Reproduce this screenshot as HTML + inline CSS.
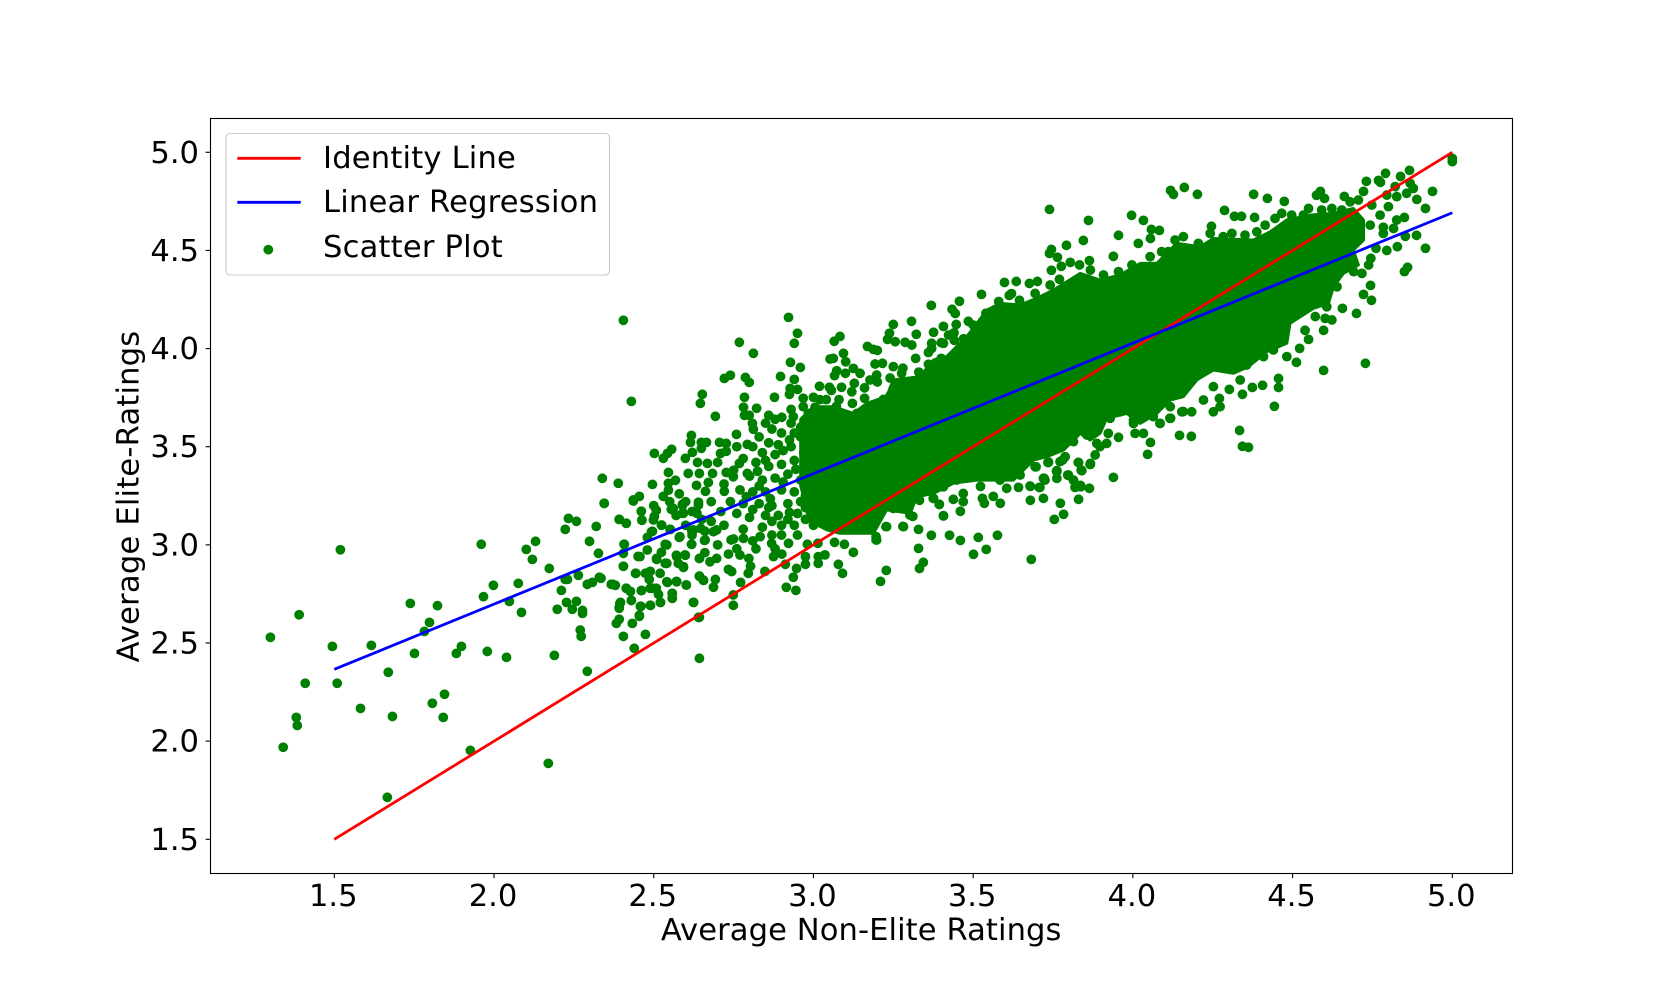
<!DOCTYPE html>
<html lang="en">
<head>
<meta charset="utf-8">
<title>Average Elite vs Non-Elite Ratings</title>
<style>
html,body{margin:0;padding:0;background:#fff;}
body{width:1680px;height:981px;overflow:hidden;}
svg{display:block;}
text{font-family:"DejaVu Sans","Liberation Sans",sans-serif;font-size:30.56px;fill:#000;}
.wide{letter-spacing:0.2px;}
</style>
</head>
<body>
<svg id="chart" xmlns="http://www.w3.org/2000/svg" width="1680" height="981" viewBox="0 0 1680 981">
  <rect x="0" y="0" width="1680" height="981" fill="#ffffff"/>
  <g id="scatter-layer"></g>
  <g id="line-layer"></g>
  <rect x="210.5" y="118.5" width="1302" height="755" fill="none" stroke="#000" stroke-width="1.11"/>
  <g id="tick-layer"></g>
  <text class="wide" x="861.2" y="940" text-anchor="middle" style="letter-spacing:0.1px">Average Non-Elite Ratings</text>
  <text class="wide" transform="translate(138.5,496.5) rotate(-90)" text-anchor="middle">Average Elite-Ratings</text>
  <g>
    <rect x="226" y="133.5" width="383.5" height="141.5" rx="4" ry="4" fill="#fff" fill-opacity="0.8" stroke="#ccc" stroke-width="1.11"/>
    <line x1="237.3" y1="158.3" x2="300.7" y2="158.3" stroke="#ff0000" stroke-width="2.78"/>
    <text class="wide" x="323" y="168">Identity Line</text>
    <line x1="237.3" y1="202.3" x2="300.7" y2="202.3" stroke="#0000ff" stroke-width="2.78"/>
    <text class="wide" x="323" y="212">Linear Regression</text>
    <circle cx="268.3" cy="249.7" r="4.9" fill="#008000"/>
    <text class="wide" x="323" y="257">Scatter Plot</text>
  </g>
</svg>
<script>
const xTickValues = [1.5, 2.0, 2.5, 3.0, 3.5, 4.0, 4.5, 5.0];
const yTickValues = [1.5, 2.0, 2.5, 3.0, 3.5, 4.0, 4.5, 5.0];
const identityX = [1.5, 5.0];
const identityY = [1.5, 5.0];
const regressionX = [1.5, 5.0];
const regressionY = [2.366, 4.692];
// Outline of the fully overplotted centre of the cloud, where single dots cannot be read.
const denseCoreOutline = [[2.960,3.640],[3.000,3.704],[3.062,3.704],[3.125,3.670],[3.167,3.721],[3.229,3.755],[3.250,3.840],[3.334,3.857],[3.376,3.942],[3.417,3.959],[3.480,4.061],[3.543,4.196],[3.584,4.230],[3.647,4.222],[3.699,4.256],[3.751,4.298],[3.835,4.383],[3.897,4.349],[3.960,4.375],[4.023,4.434],[4.075,4.434],[4.137,4.536],[4.211,4.519],[4.252,4.561],[4.378,4.553],[4.430,4.595],[4.482,4.655],[4.555,4.680],[4.628,4.689],[4.690,4.714],[4.722,4.655],[4.722,4.553],[4.690,4.502],[4.706,4.426],[4.659,4.383],[4.628,4.315],[4.612,4.230],[4.565,4.205],[4.492,4.129],[4.482,4.027],[4.419,3.984],[4.362,3.908],[4.315,3.874],[4.252,3.891],[4.200,3.840],[4.158,3.755],[4.117,3.738],[4.075,3.670],[4.023,3.619],[3.981,3.670],[3.918,3.645],[3.897,3.568],[3.866,3.534],[3.835,3.568],[3.783,3.483],[3.730,3.449],[3.689,3.432],[3.626,3.330],[3.511,3.330],[3.438,3.314],[3.376,3.262],[3.323,3.245],[3.303,3.161],[3.229,3.178],[3.188,3.059],[3.083,3.059],[3.042,3.076],[2.990,3.120],[2.960,3.300]];
const scatterPoints = [
[1.519,2.975],[1.960,3.003],[1.390,2.644],[1.300,2.529],[1.494,2.483],[1.616,2.488],[1.738,2.702],[1.823,2.690],[1.798,2.605],[1.782,2.559],[1.751,2.447],[1.669,2.351],[1.509,2.295],[1.409,2.295],[1.582,2.167],[1.682,2.126],[1.381,2.121],[1.384,2.080],[1.340,1.969],[1.845,2.239],[1.807,2.193],[1.841,2.121],[1.898,2.483],[1.882,2.447],[1.979,2.457],[2.039,2.427],[2.189,2.437],[2.292,2.356],[1.926,1.953],[1.666,1.714],[2.170,1.887],[2.643,2.422],[1.998,2.794],[2.076,2.804],[1.967,2.736],[2.048,2.712],[2.086,2.656],[2.101,2.977],[2.130,3.018],[2.120,2.926],[2.173,2.880],[2.233,3.135],[2.258,3.120],[2.223,3.079],[2.320,3.094],[2.345,3.211],[2.299,3.018],[2.327,2.957],[2.223,2.824],[2.230,2.824],[2.264,2.845],[2.211,2.768],[2.227,2.707],[2.258,2.712],[2.198,2.672],[2.245,2.672],[2.277,2.666],[2.277,2.651],[2.270,2.566],[2.273,2.534],[2.292,2.799],[2.308,2.809],[2.330,2.835],[2.367,2.799],[2.380,2.794],[2.414,2.779],[2.427,2.763],[2.430,2.717],[2.396,2.707],[2.392,2.682],[2.392,2.621],[2.383,2.600],[2.405,2.534],[2.433,2.600],[2.455,2.636],[2.474,2.544],[2.439,2.473],[2.460,2.687],[2.489,2.692],[2.521,2.707],[2.462,2.768],[2.489,2.779],[2.508,2.779],[2.515,2.748],[2.558,2.753],[2.558,2.728],[2.625,2.707],[2.643,2.631],[2.602,2.795],[2.571,2.814],[2.543,2.809],[2.643,2.840],[2.656,2.819],[2.405,2.891],[2.443,2.855],[2.474,2.855],[2.489,2.865],[2.486,2.824],[2.408,3.003],[2.405,2.957],[2.392,3.130],[2.414,3.110],[2.436,3.223],[2.461,3.171],[2.463,3.125],[2.508,3.176],[2.502,3.145],[2.524,3.100],[2.496,3.069],[2.552,3.079],[2.580,3.038],[2.619,3.074],[2.647,3.084],[2.618,3.003],[2.659,3.023],[2.643,2.931],[2.599,2.947],[2.451,2.941],[2.480,3.038],[2.480,2.974],[2.536,3.003],[2.524,2.962],[2.509,2.926],[2.536,2.906],[2.571,2.947],[2.577,2.906],[2.593,2.885],[2.555,3.181],[2.590,3.201],[2.593,3.161],[2.635,3.161],[2.640,3.203],
[2.405,4.144],[2.430,3.731],[2.922,4.159],[2.950,4.078],[2.940,4.027],[2.768,4.032],[2.812,3.976],[2.928,3.930],[2.959,3.904],[2.897,3.858],[2.940,3.843],[2.721,3.848],[2.740,3.864],[2.787,3.853],[2.799,3.828],[2.652,3.767],[2.646,3.721],[2.693,3.655],[2.784,3.752],[2.878,3.752],[2.927,3.797],[2.950,3.792],[2.925,3.767],[2.781,3.701],[2.822,3.696],[2.784,3.660],[2.799,3.660],[2.809,3.619],[2.812,3.589],[2.860,3.660],[2.759,3.563],[2.618,3.558],[2.615,3.522],[2.649,3.522],[2.665,3.522],[2.706,3.522],[2.727,3.517],[2.793,3.512],[2.556,3.487],[2.543,3.466],[2.530,3.441],[2.502,3.466],[2.599,3.441],[2.621,3.471],[2.649,3.492],[2.709,3.466],[2.727,3.477],[2.637,3.420],[2.668,3.415],[2.608,3.364],[2.546,3.369],[2.643,3.364],[2.684,3.364],[2.727,3.369],[2.749,3.347],[2.793,3.364],[2.768,3.415],[2.671,3.318],[2.634,3.303],[2.568,3.329],[2.546,3.314],[2.496,3.308],[2.389,3.314],[2.339,3.339],[2.345,3.212],[2.436,3.229],[2.455,3.247],[2.530,3.247],[2.546,3.279],[2.721,3.273],[2.662,3.273],[2.640,3.217],[2.590,3.207],[2.561,3.186],[2.508,3.176],[2.461,3.171],[2.590,3.161],[2.392,3.130],[2.414,3.110],[2.463,3.127],[2.499,3.127],[2.525,3.101],[2.551,3.079],[2.493,3.067],[2.407,3.003],[2.457,2.940],[2.405,2.891],[2.444,2.855],[2.335,2.830],[2.372,2.799],[2.414,2.779],[2.461,2.767],[2.430,2.717],[2.394,2.702],[2.392,2.677],[2.455,2.641],[2.458,2.687],[2.490,2.692],[2.521,2.707],[2.558,2.728],[2.558,2.753],[2.499,2.779],[2.483,2.855],[2.520,2.855],[2.541,2.812],[2.572,2.812],[2.602,2.796],[2.624,2.707],[2.643,2.931],[2.643,2.841],[2.655,2.821],[2.693,2.824],[2.687,2.784],[2.749,2.745],[2.749,2.692],[2.640,2.631],[2.772,2.809],[2.796,2.855],[2.734,2.875],[2.744,2.864],[2.848,2.865],[2.803,2.891],[2.798,2.931],[2.770,2.948],[2.734,2.953],[2.697,2.931],[2.676,2.914],[2.593,2.889],[2.572,2.940],[2.598,2.949],[2.541,3.000],[2.509,2.931],[2.541,2.906],[2.619,3.003],[2.661,3.025],[2.687,3.067],[2.697,3.076],[2.624,3.076],[2.582,3.042],[2.742,3.025],[2.781,3.033],[2.833,3.042],[2.869,3.008],[2.875,2.940],[2.901,2.953],[2.922,3.008],[2.915,2.784],[2.945,2.768],[2.937,2.835],[2.947,2.880],[2.912,2.901],[2.975,2.901],[2.975,2.940],[2.981,3.003],[3.014,3.008],[3.015,2.906],[3.015,2.940],[3.036,2.949],[3.066,3.013],[3.097,3.003],[3.125,2.962],[3.078,2.901],[3.091,2.855],[3.228,2.870],[3.210,2.814],[3.329,3.079],[3.329,2.982],[3.344,2.911],[3.332,2.880],[3.369,3.049],[3.426,3.049],[3.460,3.023],[3.516,3.038],[3.576,3.049],[3.501,2.952],[3.541,2.977],[3.682,2.926],[3.754,3.130],[3.783,3.156],[3.773,3.212],[3.830,3.232],[3.720,3.237],[3.679,3.227],[3.585,3.212],[3.563,3.247],[3.535,3.212],[3.529,3.237],[3.460,3.171],[3.407,3.149],[3.394,3.207],[3.376,3.237],[3.332,3.227],[3.280,3.094],[3.250,3.186],[3.311,3.145],[3.227,3.093],[3.196,3.042],[3.196,3.025],[3.167,3.096],[3.136,3.084],[3.523,3.298],[3.679,3.298],[3.709,3.293],[3.722,3.339],[3.761,3.375],[3.798,3.354],[3.814,3.329],[3.836,3.303],[3.864,3.288],[3.867,3.415],[3.839,3.380],[3.830,3.420],[3.734,3.420],[3.780,3.432],[3.695,3.398],
[3.369,4.220],[3.457,4.241],[3.526,4.276],[3.434,4.200],[3.444,4.179],[3.447,4.123],[3.407,4.113],[3.376,4.083],[3.423,4.069],[3.441,4.042],[3.407,4.027],[3.370,4.027],[3.370,4.001],[3.485,4.139],[3.527,4.123],[3.307,4.139],[3.250,4.123],[3.322,4.073],[3.238,4.078],[3.232,4.047],[3.256,4.035],[3.287,4.032],[3.308,4.018],[3.083,4.062],[3.065,4.037],[3.169,4.011],[3.188,3.996],[3.200,3.991],[3.094,3.976],[3.052,3.947],[3.062,3.950],[3.101,3.933],[3.216,3.925],[3.193,3.921],[3.250,3.908],[3.276,3.874],[3.073,3.887],[3.066,3.862],[3.100,3.874],[3.146,3.874],[3.125,3.899],[3.198,3.865],[3.177,3.840],[3.128,3.823],[3.019,3.808],[3.050,3.803],[3.056,3.787],[3.088,3.803],[3.250,3.797],[3.160,3.747],[3.000,3.752],[2.968,3.747],[3.219,3.741],[3.072,3.706],[3.122,3.721],[3.136,3.670],[3.005,3.701],[2.968,3.704],[3.036,3.670],[3.094,3.640],[2.901,3.650],[2.937,3.653],[2.984,3.670],[3.015,3.636],
[3.739,4.709],[3.861,4.653],[3.845,4.551],[3.792,4.526],[3.739,4.485],[3.745,4.505],[3.764,4.465],[3.955,4.577],[3.939,4.470],[3.996,4.679],[4.033,4.653],[4.058,4.607],[4.083,4.602],[4.055,4.561],[4.017,4.536],[4.118,4.806],[4.127,4.786],[4.161,4.821],[4.202,4.786],[4.378,4.786],[4.421,4.765],[4.474,4.750],[4.287,4.704],[4.318,4.674],[4.340,4.674],[4.381,4.668],[4.246,4.623],[4.587,4.801],[4.575,4.781],[4.600,4.765],[4.662,4.775],[4.722,4.801],[4.731,4.852],[4.769,4.857],[4.775,4.847],[4.791,4.893],[4.838,4.877],[4.866,4.908],[4.938,4.801],[5.000,4.969],[5.000,4.952],[4.916,4.714],[4.916,4.511],[4.850,4.668],[4.828,4.519],[4.795,4.500],[4.888,4.577],[4.853,4.572],[4.860,4.414],[4.850,4.392],[4.744,4.322],[4.722,4.276],[4.747,4.246],[4.656,4.205],[4.700,4.179],[4.728,3.925],[4.597,3.889],[4.597,4.093],[4.550,4.047],[4.522,4.001],[4.512,3.930],[4.443,3.706],[4.456,3.848],[4.456,3.802],[4.406,3.813],[4.374,3.802],[4.343,3.767],[4.302,3.792],[4.334,3.583],[4.343,3.502],[4.362,3.497],[4.183,3.553],[4.146,3.558],[4.055,3.522],[4.046,3.461],[3.955,3.548],[3.939,3.344],[3.867,3.410],[3.838,3.381],[3.798,3.356],[3.762,3.373],[3.788,3.449],[3.736,3.422],[3.697,3.398],[3.647,3.356],[3.720,3.339],[3.882,3.458],[3.897,3.500],[3.923,3.568],[3.887,3.585],[3.856,3.560],[3.814,3.526],[4.007,3.568],[4.033,3.568],[4.085,3.619],[4.118,3.645],[4.064,3.653],[4.002,3.619],[3.929,3.645],[3.960,3.678],[4.153,3.678],[4.184,3.678],[4.117,3.704],[4.153,3.789],[4.221,3.738],[4.252,3.678],[4.273,3.704],[4.271,3.746],[4.252,3.806],[4.336,3.840],[4.356,3.916],[4.409,3.959],[4.440,3.993],[4.482,3.959],[4.539,4.093],[4.571,4.163],[4.602,4.154],[4.623,4.146],[4.607,4.213],[4.586,4.247],[4.639,4.315],[4.691,4.392],[4.717,4.383],[4.738,4.426],[4.745,4.460],[4.761,4.511],[4.784,4.587],[4.816,4.612],[4.826,4.655],[4.774,4.680],[4.743,4.629],[4.784,4.618],[4.878,4.816],[4.868,4.842],[4.821,4.825],[4.857,4.791],[4.889,4.760],[4.826,4.774],[4.800,4.723],[4.748,4.731],[4.795,4.782],[4.706,4.757],[4.680,4.748],[4.654,4.706],[4.623,4.714],[4.591,4.706],[4.550,4.714],[4.534,4.680],[4.497,4.680],[4.466,4.689],[4.445,4.663],[4.414,4.629],[4.388,4.595],[4.351,4.578],[4.310,4.587],[4.283,4.570],[4.242,4.587],[4.205,4.536],[4.158,4.570],[4.132,4.553],[4.111,4.494],[4.090,4.494],[4.054,4.468],[3.997,4.426],[3.955,4.392],[3.908,4.375],[3.864,4.448],[3.867,4.400],[3.833,4.426],[3.804,4.439],[3.776,4.419],[3.745,4.399],[3.770,4.353],[3.701,4.342],[3.676,4.332],[3.635,4.342],[3.598,4.337],[3.613,4.271],[3.645,4.246],[3.694,4.281],[3.741,4.324],
[3.469,3.262],[3.469,3.220],[3.438,3.232],[3.394,3.206],[3.375,3.237],[3.407,3.147],[3.605,3.288],[3.642,3.293],[3.678,3.300],[3.707,3.293],[3.725,3.330],[3.762,3.339],[3.762,3.378],[3.796,3.356],[3.819,3.293],[3.837,3.296],[3.814,3.330],[3.840,3.378],[3.866,3.410],[3.829,3.420],[3.735,3.420],[3.772,3.424],[3.694,3.398],[3.636,3.364],[3.626,3.415],[3.563,3.364],[3.584,3.330],[3.511,3.347],[3.448,3.330],[3.407,3.296],[3.522,3.398],[3.668,3.449],[3.887,3.517],[3.918,3.517],[4.002,3.636],[4.085,3.619],[4.116,3.645],[4.158,3.679],[3.198,3.025],[3.282,3.093],[3.229,3.093],[3.130,3.084],[3.062,3.127],[3.021,3.135],[3.302,3.152],[3.318,3.288],[3.355,3.305],
[3.120,3.780],[3.160,3.800],[3.200,3.830],[3.240,3.850],[3.280,3.900],[3.320,3.950],[3.330,3.880],[3.280,3.800],[3.240,3.760],[3.360,3.980],[3.400,4.030],[3.440,4.080],[3.470,4.050],[3.400,3.950],[3.360,3.920],[3.500,4.070],[3.500,4.120],[3.540,4.180],[3.580,4.240],[3.620,4.280],[3.020,3.740],[3.040,3.740],[3.080,3.740],[2.930,3.690],[2.880,3.640],[2.850,3.620],[2.830,3.550],[2.780,3.440],[2.750,3.380],[2.720,3.310],
[2.710,3.170],[2.720,3.100],[2.750,3.030],[2.810,3.020],[2.870,3.050],[2.650,3.130],[2.600,3.100],[2.680,3.220],[2.620,3.170],[2.570,3.150],[2.660,3.070],[2.700,3.420],[2.580,3.260],[2.550,3.220],[2.500,3.200],[2.600,3.220],[2.760,3.500],[2.680,3.120],[2.700,3.000],[2.760,2.980],[2.820,2.980],[2.880,2.980],[2.660,2.960],[2.620,3.050],
[2.860,3.520],[2.900,3.570],[2.930,3.620],[2.960,3.550],[2.990,3.600],[2.840,3.470],[2.880,3.460],[2.930,3.500],[2.970,3.470],[3.000,3.520],[2.820,3.420],[2.860,3.400],[2.900,3.410],[2.940,3.430],[2.980,3.400],[3.010,3.450],[2.800,3.350],[2.840,3.330],[2.880,3.340],[2.920,3.360],[2.960,3.330],[3.000,3.350],[2.770,3.280],[2.810,3.270],[2.850,3.270],[2.900,3.280],[2.940,3.270],[2.980,3.280],[3.020,3.290],[2.740,3.220],[2.780,3.210],[2.830,3.210],[2.870,3.200],[2.920,3.210],[2.960,3.220],[3.000,3.220],[2.760,3.160],[2.800,3.140],[2.850,3.150],[2.890,3.150],[2.950,3.160],[2.990,3.170],[2.780,3.080],[2.840,3.090],[2.900,3.100],[2.940,3.100],[3.000,3.100],[2.900,3.050],[2.950,3.050],[2.810,3.500],[2.870,3.590],[2.940,3.570],[2.905,3.480],[2.945,3.385],[2.865,3.235],[2.925,3.165],[2.905,3.320],[2.825,3.375],[2.790,3.245],[2.975,3.515],[2.975,3.440],[2.975,3.360],[2.975,3.250],[2.975,3.190],[2.975,3.130],[2.960,3.600],[2.925,3.535],[2.890,3.510],[2.850,3.430],[2.830,3.300],[2.860,3.190],[2.810,3.180],[2.920,3.130],[2.870,3.120]
];

const svgNS = 'http://www.w3.org/2000/svg';
const plotLeft = 210.5, plotBottom = 873.3;
function xScale(v) { return 334.3 + (v - 1.5) * 319.43; }
function yScale(v) { return 839.3 - (v - 1.5) * 196.29; }
function make(tag, attrs) {
  const el = document.createElementNS(svgNS, tag);
  for (const k in attrs) el.setAttribute(k, attrs[k]);
  return el;
}

const scatterLayer = document.getElementById('scatter-layer');
const core = make('polygon', {
  points: denseCoreOutline.map(p => xScale(p[0]).toFixed(1) + ',' + yScale(p[1]).toFixed(1)).join(' '),
  fill: '#008000', stroke: '#008000', 'stroke-width': 3, 'stroke-linejoin': 'round'
});


scatterLayer.appendChild(core);
scatterPoints.forEach(function (p) {
  const dot = make('circle', { cx: xScale(p[0]).toFixed(2), cy: yScale(p[1]).toFixed(2), r: 4.9, fill: '#008000' });
  
  
  scatterLayer.appendChild(dot);
});

const lineLayer = document.getElementById('line-layer');
const identityLine = make('line', { x1: xScale(identityX[0]), y1: yScale(identityY[0]), x2: xScale(identityX[1]), y2: yScale(identityY[1]), stroke: '#ff0000', 'stroke-width': 2.78 });


lineLayer.appendChild(identityLine);
const regressionLine = make('line', { x1: xScale(regressionX[0]), y1: yScale(regressionY[0]), x2: xScale(regressionX[1]), y2: yScale(regressionY[1]), stroke: '#0000ff', 'stroke-width': 2.78 });


lineLayer.appendChild(regressionLine);

const tickLayer = document.getElementById('tick-layer');
xTickValues.forEach(function (v) {
  const x = xScale(v);
  const mark = make('line', { x1: x, y1: plotBottom, x2: x, y2: plotBottom + 4.9, stroke: '#000', 'stroke-width': 1.11 });
  
  
  tickLayer.appendChild(mark);
  const label = make('text', { x: x - 1, y: 906, 'text-anchor': 'middle' });
  
  
  label.textContent = v.toFixed(1);
  tickLayer.appendChild(label);
});
yTickValues.forEach(function (v) {
  const y = yScale(v);
  const mark = make('line', { x1: plotLeft - 4.9, y1: y, x2: plotLeft, y2: y, stroke: '#000', 'stroke-width': 1.11 });
  
  
  tickLayer.appendChild(mark);
  const label = make('text', { x: 199, y: y + 10.5, 'text-anchor': 'end' });
  
  
  label.textContent = v.toFixed(1);
  tickLayer.appendChild(label);
});
</script>
</body>
</html>
